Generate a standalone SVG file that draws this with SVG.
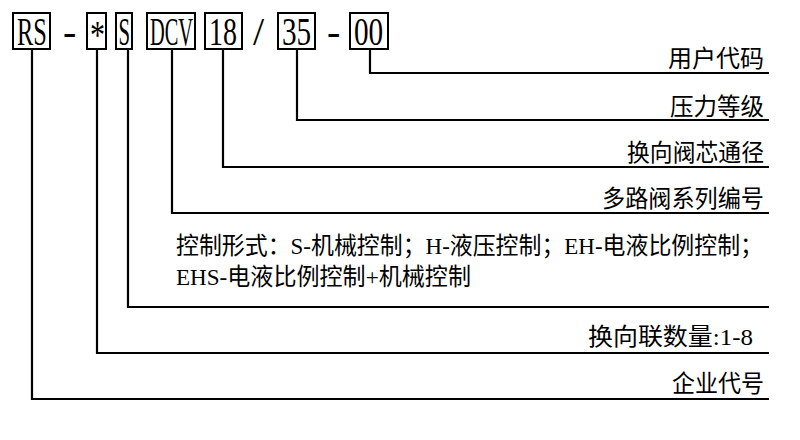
<svg xmlns="http://www.w3.org/2000/svg" width="800" height="440" viewBox="0 0 800 440">
<style>
.box{fill:none;stroke:#000;stroke-width:2}
.code{font-family:"Liberation Serif","Noto Sans CJK SC",serif;font-size:40px;fill:#000}
.lbl{font-family:"Liberation Serif","Noto Sans CJK SC",serif;font-size:24px;fill:#000}
.ln{fill:none;stroke:#000;stroke-width:2.2}
</style>
<rect width="800" height="440" fill="#fff"/>
<g id="code">
<g id="n-rs"><rect class="box" x="13" y="13" width="37" height="36"/><text class="code" transform="translate(17,45) scale(0.61,1)">RS</text></g>
<text class="code" x="63" y="45">-</text>
<g id="n-star"><rect class="box" x="87" y="13" width="19" height="36"/><text class="code" transform="translate(90,48) scale(0.75,1)">*</text></g>
<g id="n-s"><rect class="box" x="116" y="13" width="16" height="36"/><text class="code" transform="translate(118.5,45) scale(0.52,1)">S</text></g>
<g id="n-dcv"><rect class="box" x="147" y="13" width="48" height="36"/><text class="code" transform="translate(150,45) scale(0.51,1)">DCV</text></g>
<g id="n-18"><rect class="box" x="205" y="13" width="37" height="36"/><text class="code" transform="translate(209,45) scale(0.7,1)">18</text></g>
<text class="code" x="253" y="45">/</text>
<g id="n-35"><rect class="box" x="278" y="13" width="37" height="36"/><text class="code" transform="translate(282,45) scale(0.73,1)">35</text></g>
<text class="code" x="327" y="45">-</text>
<g id="n-00"><rect class="box" x="350" y="13" width="38" height="36"/><text class="code" transform="translate(354,45) scale(0.73,1)">00</text></g>
</g>
<g id="connectors">
<polyline class="ln" points="370,49 370,73 769,73"/>
<polyline class="ln" points="297,49 297,120 769,120"/>
<polyline class="ln" points="223,49 223,167 769,167"/>
<polyline class="ln" points="172,49 172,213 769,213"/>
<polyline class="ln" points="128,49 128,307 769,307"/>
<polyline class="ln" points="97,49 97,353 769,353"/>
<polyline class="ln" points="32,49 32,399 769,399"/>
</g>
<g id="labels">
<text id="l-user" class="lbl" x="668" y="67" textLength="96" lengthAdjust="spacingAndGlyphs">用户代码</text>
<text id="l-press" class="lbl" x="670" y="115" textLength="94" lengthAdjust="spacingAndGlyphs">压力等级</text>
<text id="l-spool" class="lbl" x="627" y="161" textLength="137" lengthAdjust="spacingAndGlyphs">换向阀芯通径</text>
<text id="l-series" class="lbl" x="602" y="207" textLength="162" lengthAdjust="spacingAndGlyphs">多路阀系列编号</text>
<text id="l-ctrl1" class="lbl" x="176" y="254" textLength="587" lengthAdjust="spacingAndGlyphs">控制形式：S-机械控制；H-液压控制；EH-电液比例控制；</text>
<text id="l-ctrl2" class="lbl" x="176" y="285" textLength="295" lengthAdjust="spacingAndGlyphs">EHS-电液比例控制+机械控制</text>
<text id="l-num" class="lbl" x="588" y="345" textLength="165" lengthAdjust="spacingAndGlyphs">换向联数量:1-8</text>
<text id="l-ent" class="lbl" x="672" y="392" textLength="92" lengthAdjust="spacingAndGlyphs">企业代号</text>
</g>
</svg>
